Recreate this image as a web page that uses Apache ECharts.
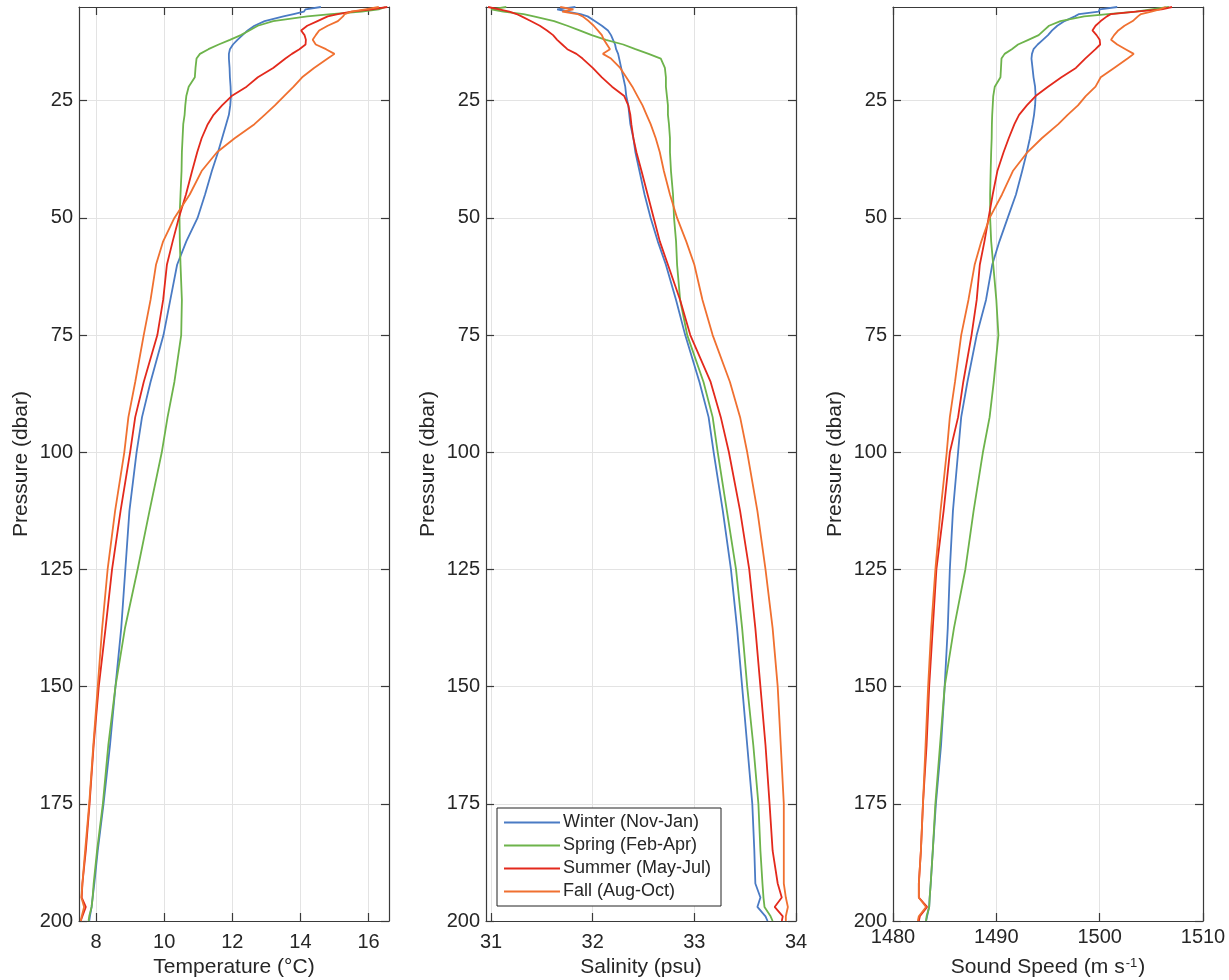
<!DOCTYPE html>
<html>
<head>
<meta charset="utf-8">
<script src="https://cdn.jsdelivr.net/npm/echarts@6/dist/echarts.min.js"></script>
<style>
  html, body { margin: 0; padding: 0; background: #fff; }
  #chart { width: 1229px; height: 980px; }
</style>
</head>
<body>
<div id="chart"></div>
<script>
const seasons = ['Winter (Nov-Jan)', 'Spring (Feb-Apr)', 'Summer (May-Jul)', 'Fall (Aug-Oct)'];
const colors = ['#4a7bc4', '#6db34b', '#e3291c', '#f07030'];

// pressure levels (dbar), shared by every profile
const pressure = [5, 5.5, 6, 6.5, 7, 8, 9, 10, 11, 12, 13, 14, 15, 16, 18, 20, 22, 24, 26, 28, 30, 33, 36, 40, 45, 50, 55, 60, 67.5, 75, 85, 92.5, 100, 112.5, 125, 137.5, 150, 162.5, 175, 185, 192, 195, 197, 199, 200];

// temperature (°C)
const tempWinter = [14.6, 14.15, 14.1, 13.8, 13.5, 12.95, 12.65, 12.45, 12.3, 12.15, 12.02, 11.93, 11.9, 11.9, 11.92, 11.93, 11.95, 11.96, 11.94, 11.9, 11.82, 11.7, 11.58, 11.4, 11.2, 10.98, 10.65, 10.38, 10.18, 9.98, 9.6, 9.35, 9.19, 8.98, 8.86, 8.74, 8.57, 8.41, 8.22, 8.05, 7.95, 7.9, 7.87, 7.82, 7.8];
const tempSpring = [16.5, 16.3, 15.8, 14.9, 14.2, 13.2, 12.75, 12.5, 12.25, 11.93, 11.6, 11.3, 11.05, 10.95, 10.92, 10.9, 10.72, 10.65, 10.62, 10.6, 10.56, 10.54, 10.52, 10.51, 10.48, 10.45, 10.46, 10.48, 10.52, 10.5, 10.3, 10.1, 9.93, 9.57, 9.22, 8.85, 8.57, 8.36, 8.2, 8.03, 7.93, 7.9, 7.87, 7.8, 7.78];
const tempSummer = [16.55, 16.1, 15.5, 15.1, 14.8, 14.5, 14.2, 14.02, 14.12, 14.16, 14.15, 13.97, 13.75, 13.56, 13.2, 12.75, 12.42, 11.98, 11.7, 11.45, 11.28, 11.1, 10.97, 10.82, 10.64, 10.43, 10.25, 10.08, 9.97, 9.8, 9.4, 9.15, 9.0, 8.72, 8.47, 8.28, 8.08, 7.93, 7.81, 7.7, 7.6, 7.58, 7.7, 7.6, 7.55];
const tempFall = [16.3, 15.9, 15.5, 15.3, 15.25, 15.1, 14.8, 14.55, 14.45, 14.36, 14.45, 14.75, 15.0, 14.8, 14.4, 14.05, 13.8, 13.52, 13.25, 12.95, 12.65, 12.07, 11.55, 11.1, 10.75, 10.3, 9.97, 9.76, 9.6, 9.4, 9.15, 8.95, 8.83, 8.56, 8.34, 8.18, 8.05, 7.92, 7.8, 7.68, 7.6, 7.57, 7.65, 7.58, 7.55];

// salinity (psu)
const salWinter = [31.83, 31.65, 31.75, 31.88, 31.95, 32.02, 32.09, 32.15, 32.18, 32.2, 32.22, 32.23, 32.25, 32.26, 32.28, 32.3, 32.32, 32.33, 32.35, 32.36, 32.37, 32.4, 32.42, 32.46, 32.51, 32.57, 32.64, 32.72, 32.82, 32.91, 33.05, 33.14, 33.19, 33.28, 33.36, 33.42, 33.47, 33.52, 33.57, 33.59, 33.6, 33.65, 33.62, 33.7, 33.72];
const salSpring = [31.15, 31.0, 31.12, 31.32, 31.42, 31.62, 31.75, 31.87, 31.99, 32.13, 32.3, 32.42, 32.55, 32.67, 32.71, 32.72, 32.72, 32.73, 32.74, 32.74, 32.75, 32.76, 32.76, 32.77, 32.79, 32.8, 32.82, 32.83, 32.86, 32.93, 33.09, 33.18, 33.23, 33.32, 33.41, 33.47, 33.52, 33.58, 33.63, 33.65, 33.67, 33.68, 33.69, 33.75, 33.77];
const salSummer = [30.97, 31.08, 31.18, 31.25, 31.3, 31.39, 31.48, 31.55, 31.61, 31.65, 31.7, 31.75, 31.84, 31.9, 32.0, 32.09, 32.19, 32.31, 32.35, 32.37, 32.38, 32.4, 32.43, 32.48, 32.54, 32.6, 32.66, 32.74, 32.86, 32.96, 33.16, 33.26, 33.34, 33.45, 33.54, 33.6, 33.65, 33.7, 33.74, 33.77, 33.82, 33.86, 33.79, 33.87, 33.86];
const salFall = [31.68, 31.81, 31.7, 31.85, 31.9, 31.96, 32.01, 32.05, 32.09, 32.11, 32.14, 32.17, 32.1, 32.18, 32.27, 32.33, 32.39, 32.44, 32.49, 32.53, 32.57, 32.62, 32.66, 32.7, 32.76, 32.83, 32.92, 33.0, 33.08, 33.18, 33.35, 33.45, 33.52, 33.62, 33.7, 33.77, 33.82, 33.85, 33.88, 33.88, 33.88, 33.9, 33.92, 33.9, 33.9];

// sound speed (m/s)
const ssWinter = [1501.7, 1500.0, 1499.9, 1498.0, 1497.6, 1496.6, 1495.9, 1495.4, 1495.0, 1494.5, 1494.0, 1493.6, 1493.45, 1493.4, 1493.5, 1493.6, 1493.75, 1493.8, 1493.75, 1493.65, 1493.5, 1493.25, 1492.95, 1492.5, 1491.9, 1491.1, 1490.3, 1489.6, 1489.0, 1488.1, 1487.2, 1486.6, 1486.3, 1485.8, 1485.5, 1485.3, 1485.0, 1484.65, 1484.15, 1483.85, 1483.65, 1483.55, 1483.5, 1483.3, 1483.2];
const ssSpring = [1506.7, 1505.0, 1503.5, 1500.8, 1498.5, 1496.2, 1495.1, 1494.6, 1494.1, 1493.1, 1492.1, 1491.5, 1490.8, 1490.5, 1490.45, 1490.4, 1489.85, 1489.7, 1489.65, 1489.6, 1489.57, 1489.55, 1489.5, 1489.45, 1489.4, 1489.4, 1489.5, 1489.7, 1490.0, 1490.2, 1489.75, 1489.35, 1488.7, 1487.8, 1487.0, 1485.9, 1485.0, 1484.55, 1484.1, 1483.85, 1483.65, 1483.55, 1483.5, 1483.25, 1483.2];
const ssSummer = [1507.0, 1506.0, 1503.5, 1501.1, 1500.7, 1500.1, 1499.6, 1499.3, 1499.7, 1500.0, 1500.05, 1499.6, 1499.1, 1498.6, 1497.7, 1496.3, 1495.0, 1493.8, 1492.95, 1492.2, 1491.75, 1491.2, 1490.7, 1490.1, 1489.65, 1489.25, 1488.85, 1488.4, 1488.1, 1487.6, 1486.8, 1486.3, 1485.5, 1484.9, 1484.2, 1483.85, 1483.5, 1483.25, 1482.9, 1482.7, 1482.5, 1482.5, 1483.3, 1482.6, 1482.5];
const ssFall = [1506.4, 1505.8, 1505.0, 1504.0, 1503.7, 1503.2, 1502.4, 1501.8, 1501.4, 1501.1, 1501.7, 1502.5, 1503.3, 1502.7, 1501.4, 1500.1, 1499.6, 1498.65, 1497.9, 1496.9, 1496.0, 1494.4, 1493.0, 1491.6, 1490.55, 1489.35, 1488.55, 1487.9, 1487.3, 1486.6, 1486.0, 1485.5, 1485.2, 1484.6, 1484.1, 1483.7, 1483.4, 1483.15, 1482.9, 1482.7, 1482.5, 1482.5, 1483.2, 1482.5, 1482.4];

// tick labels
const pressureTicks = [25, 50, 75, 100, 125, 150, 175, 200];
const tempTicks = [8, 10, 12, 14, 16];
const salTicks = [31, 32, 33, 34];
const ssTicks = [1480, 1490, 1500, 1510];

const panels = [
  { left: 79, xmin: 7.5, xmax: 16.6, ticks: tempTicks, name: 'Temperature (°C)', labelMargin: 11, data: [tempWinter, tempSpring, tempSummer, tempFall] },
  { left: 486, xmin: 30.95, xmax: 34, ticks: salTicks, name: 'Salinity (psu)', labelMargin: 11, data: [salWinter, salSpring, salSummer, salFall] },
  { left: 893, xmin: 1480, xmax: 1510, ticks: ssTicks, name: 'Sound Speed (m s{sup|-1})', labelMargin: 6, data: [ssWinter, ssSpring, ssSummer, ssFall] }
];

const font = 'Liberation Sans, Arial, Helvetica, sans-serif';
const textColor = '#262626';
const boxColor = '#3a3a3a';
const gridColor = '#e3e3e3';

const grid = [], xAxis = [], yAxis = [], series = [];

panels.forEach((pn, i) => {
  grid.push({ left: pn.left, width: 310, top: 7, height: 914, containLabel: false, outerBoundsMode: 'none' });

  // bottom axis with labels
  xAxis.push({
    gridIndex: i, type: 'value', position: 'bottom', min: pn.xmin, max: pn.xmax,
    name: pn.name, nameLocation: 'middle', nameGap: 36,
    nameTextStyle: { fontFamily: font, fontSize: 21, color: textColor,
      rich: { sup: { fontFamily: font, fontSize: 13, color: textColor, verticalAlign: 'top', padding: [0, 1, 0, 1] } } },
    axisLine: { show: true, lineStyle: { color: boxColor, width: 1.2 } },
    axisTick: { show: true, inside: true, length: 8, customValues: pn.ticks, lineStyle: { color: boxColor, width: 1.2 } },
    axisLabel: { customValues: pn.ticks, margin: pn.labelMargin, fontFamily: font, fontSize: 20, color: textColor,
      formatter: v => String(v) },
    splitLine: { show: true, lineStyle: { color: gridColor, width: 1 } }
  });
  // top axis, ticks only
  xAxis.push({
    gridIndex: i, type: 'value', position: 'top', min: pn.xmin, max: pn.xmax,
    axisLine: { show: true, onZero: false, lineStyle: { color: boxColor, width: 1.2 } },
    axisTick: { show: true, inside: true, length: 8, customValues: pn.ticks, lineStyle: { color: boxColor, width: 1.2 } },
    axisLabel: { show: false },
    splitLine: { show: false }
  });

  yAxis.push({
    gridIndex: i, type: 'value', position: 'left', inverse: true, min: 5, max: 200,
    name: 'Pressure (dbar)', nameLocation: 'middle', nameGap: 47, nameRotate: 90,
    nameTextStyle: { fontFamily: font, fontSize: 21, color: textColor },
    axisLine: { show: true, onZero: false, lineStyle: { color: boxColor, width: 1.2 } },
    axisTick: { show: true, inside: true, length: 8, customValues: pressureTicks, lineStyle: { color: boxColor, width: 1.2 } },
    axisLabel: { customValues: pressureTicks, margin: 6, fontFamily: font, fontSize: 20, color: textColor },
    splitLine: { show: true, lineStyle: { color: gridColor, width: 1 } }
  });
  yAxis.push({
    gridIndex: i, type: 'value', position: 'right', inverse: true, min: 5, max: 200,
    axisLine: { show: true, onZero: false, lineStyle: { color: boxColor, width: 1.2 } },
    axisTick: { show: true, inside: true, length: 8, customValues: pressureTicks, lineStyle: { color: boxColor, width: 1.2 } },
    axisLabel: { show: false },
    splitLine: { show: false }
  });

  pn.data.forEach((vals, k) => {
    series.push({
      name: seasons[k], type: 'line', xAxisIndex: i * 2, yAxisIndex: i * 2,
      data: vals.map((v, j) => [v, pressure[j]]),
      symbol: 'none', smooth: false, clip: true,
      lineStyle: { color: colors[k], width: 1.8 },
      itemStyle: { color: colors[k] },
      z: 3 + k
    });
  });
});

const option = {
  backgroundColor: '#fff',
  animation: false,
  grid: grid,
  xAxis: xAxis,
  yAxis: yAxis,
  legend: {
    orient: 'vertical', left: 497, top: 808,
    data: seasons.map((s, k) => ({ name: s, icon: 'rect', itemStyle: { color: colors[k] } })),
    backgroundColor: '#fff', borderColor: '#222', borderWidth: 1,
    padding: [5, 10, 5, 7],
    itemWidth: 56, itemHeight: 2, itemGap: 4,
    textStyle: { fontFamily: font, fontSize: 18, lineHeight: 19, color: textColor, padding: [0, 0, 0, -2] }
  },
  series: series
};

const chart = echarts.init(document.getElementById('chart'));
chart.setOption(option);
</script>
</body>
</html>
